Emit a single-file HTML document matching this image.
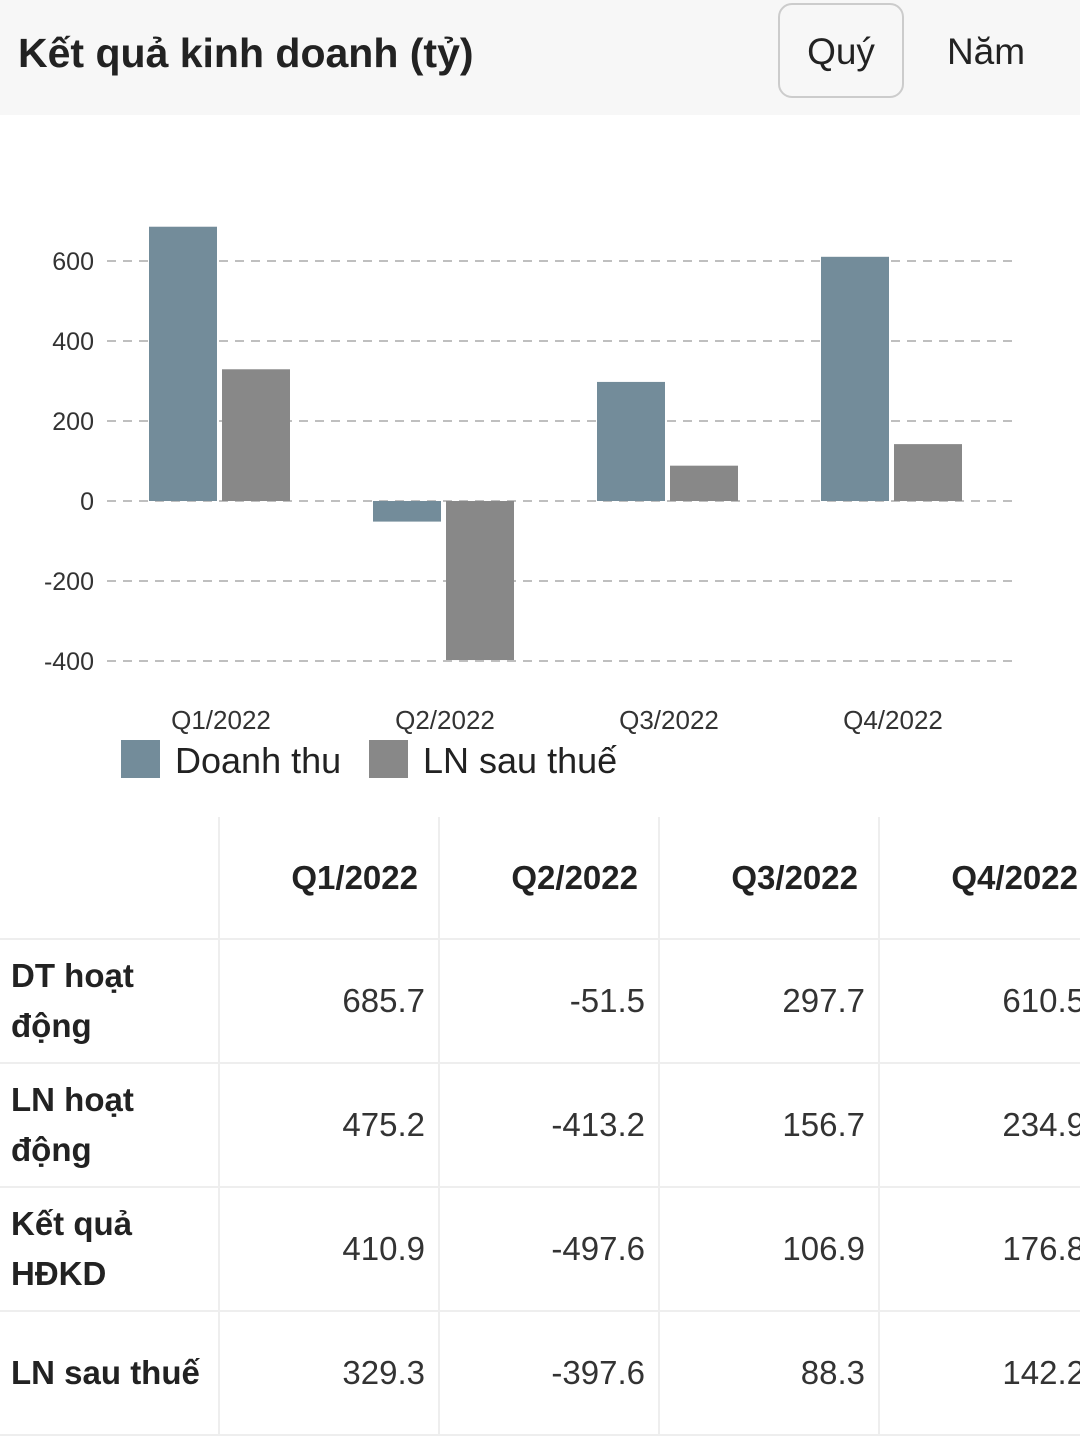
<!DOCTYPE html>
<html><head><meta charset="utf-8"><style>
*{margin:0;padding:0;box-sizing:border-box}
body{width:1080px;height:1450px;background:#fff;font-family:"Liberation Sans","DejaVu Sans",sans-serif;color:#222;position:relative;overflow:hidden}
#hdr{position:absolute;left:0;top:0;width:1080px;height:115px;background:#f7f7f7}
#title{position:absolute;left:18px;top:30px;font-size:41px;font-weight:bold;color:#222}
#quy{position:absolute;left:778px;top:3px;width:126px;height:95px;border:2px solid #ccc;border-radius:14px;font-size:37px;text-align:center;line-height:93px;color:#222}
#nam{position:absolute;left:940px;top:3px;width:92px;height:95px;font-size:37px;text-align:center;line-height:97px;color:#222}
svg{position:absolute;left:0;top:0}
table{position:absolute;left:0;top:817px;border-collapse:collapse;width:1100px}
td,th{border:2px solid #eee;font-size:33px;text-align:right;padding:0 13px}
th{height:122px;font-weight:bold;padding-right:20px}
td{height:124px;color:#333}
td.l{text-align:left;font-weight:bold;color:#222;padding-left:11px;line-height:50px;border-left:none}
tr:first-child th{border-top:none}
</style></head><body>
<div id="hdr">
<div id="title">Kết quả kinh doanh (tỷ)</div>
<div id="quy">Quý</div>
<div id="nam">Năm</div>
</div>
<svg id="chart" width="1080" height="800"></svg>
<table>
<tr><th style="width:219px;border-left:none"></th><th style="width:220px">Q1/2022</th><th style="width:220px">Q2/2022</th><th style="width:220px">Q3/2022</th><th>Q4/2022</th></tr>
<tr><td class="l">DT hoạt<br>động</td><td>685.7</td><td>-51.5</td><td>297.7</td><td>610.5</td></tr>
<tr><td class="l">LN hoạt<br>động</td><td>475.2</td><td>-413.2</td><td>156.7</td><td>234.9</td></tr>
<tr><td class="l">Kết quả<br>HĐKD</td><td>410.9</td><td>-497.6</td><td>106.9</td><td>176.8</td></tr>
<tr><td class="l">LN sau thuế</td><td>329.3</td><td>-397.6</td><td>88.3</td><td>142.2</td></tr>
</table>
<script>
const categories=["Q1/2022","Q2/2022","Q3/2022","Q4/2022"];
const doanhThu=[685.7,-51.5,297.7,610.5];
const lnSauThue=[329.3,-397.6,88.3,142.2];
const yTicks=[600,400,200,0,-200,-400];
const svg=document.getElementById('chart');
const NS='http://www.w3.org/2000/svg';
function y(v){return 501-v*0.4;}
function gx(i){return 149+i*224;}
function mk(t,a){const e=document.createElementNS(NS,t);for(const k in a)e.setAttribute(k,a[k]);svg.appendChild(e);return e;}
yTicks.forEach(v=>{
 const l=mk('line',{x1:107,x2:1013,y1:y(v),y2:y(v),stroke:'#999','stroke-width':1.2,'stroke-dasharray':'9,7'});
 
 
 const t=mk('text',{x:94,y:y(v)+9,'text-anchor':'end','font-size':25,fill:'#333','font-family':'Liberation Sans,sans-serif'});
 t.textContent=v;
 
 
});
categories.forEach((c,i)=>{
 const a=doanhThu[i],b=lnSauThue[i];
 const r1=mk('rect',{x:gx(i),y:Math.min(y(a),y(0)),width:68,height:Math.abs(y(a)-y(0)),fill:'#738c9a'});
 
 
 const r2=mk('rect',{x:gx(i)+73,y:Math.min(y(b),y(0)),width:68,height:Math.abs(y(b)-y(0)),fill:'#888888'});
 
 
 const t=mk('text',{x:gx(i)+72,y:729,'text-anchor':'middle','font-size':26,fill:'#333','font-family':'Liberation Sans,sans-serif'});
 t.textContent=c;
 
 
});
const lg=[['Doanh thu','#738c9a',121],['LN sau thuế','#888888',369]];
lg.forEach(([n,c,x])=>{
 const r=mk('rect',{x:x,y:740,width:39,height:38,fill:c});
 
 
 const t=mk('text',{x:x+54,y:773,'font-size':36,fill:'#222','font-family':'Liberation Sans,sans-serif'});
 t.textContent=n;
 
 
});
</script>
</body></html>
